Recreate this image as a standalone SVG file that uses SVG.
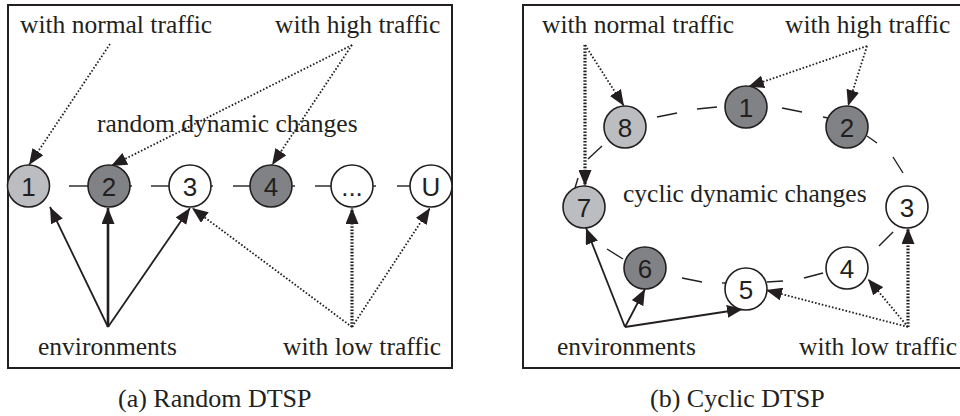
<svg xmlns="http://www.w3.org/2000/svg" width="960" height="416" viewBox="0 0 960 416">
<defs>
<style>
.frame{fill:none;stroke:#231f20;stroke-width:2}
.lbl{font-family:"Liberation Serif","Times New Roman",serif;font-size:25.5px;fill:#231f20}
.cap{font-family:"Liberation Serif","Times New Roman",serif;font-size:26px;fill:#231f20}
.num{font-family:"Liberation Sans",Arial,sans-serif;font-size:26px;fill:#231f20;text-anchor:middle}
.n circle{stroke:#231f20;stroke-width:1.6}
.light{fill:#bcbdc0}
.dark{fill:#808285}
.white{fill:#ffffff}
.dash{stroke:#231f20;stroke-width:1.4;fill:none}
.solid{stroke:#231f20;stroke-width:1.8;fill:none;marker-end:url(#ah)}
.solidb{stroke:#231f20;stroke-width:2.6;fill:none;marker-end:url(#ah)}
.dot{stroke:#231f20;stroke-width:1.8;stroke-dasharray:1.6 1.9;fill:none;marker-end:url(#ah)}
.dotb{stroke:#231f20;stroke-width:3.2;stroke-dasharray:1.6 1.6;fill:none;marker-end:url(#ah)}
</style>
<marker id="ah" markerUnits="userSpaceOnUse" markerWidth="17" markerHeight="13" refX="16" refY="6.5" orient="auto">
<path d="M0,0 L16,6.5 L0,13 z" fill="#231f20"/>
</marker>
</defs>
<rect width="960" height="416" fill="#ffffff"/>

<!-- panel frames -->
<rect class="frame" x="8" y="5" width="444" height="363"/>
<rect class="frame" x="523" y="5" width="460" height="363"/>

<!-- connectors -->
<g id="connectors">
<g class="dash">
<line x1="69" y1="186" x2="88" y2="186"/>
<line x1="129" y1="186" x2="132" y2="186"/>
<line x1="151" y1="186" x2="169" y2="186"/>
<line x1="210" y1="186" x2="213" y2="186"/>
<line x1="233" y1="186" x2="251" y2="186"/>
<line x1="292" y1="186" x2="295" y2="186"/>
<line x1="315" y1="186" x2="332" y2="186"/>
<line x1="372" y1="186" x2="376" y2="186"/>
<line x1="397" y1="186" x2="411" y2="186"/>
</g>
<g class="dash">
<line x1="657" y1="117" x2="677" y2="113"/>
<line x1="697" y1="109" x2="717" y2="107"/>
<line x1="782" y1="108" x2="802" y2="112"/>
<line x1="823" y1="117" x2="828" y2="118"/>
<line x1="867" y1="136" x2="877" y2="143"/>
<line x1="893" y1="157" x2="903" y2="173"/>
<line x1="893" y1="232" x2="879" y2="246"/>
<line x1="823" y1="273" x2="804" y2="278"/>
<line x1="783" y1="281" x2="767" y2="282"/>
<line x1="722" y1="283" x2="726" y2="283"/>
<line x1="682" y1="278" x2="702" y2="282"/>
<line x1="623" y1="259" x2="607" y2="249"/>
<line x1="575" y1="188" x2="578" y2="178"/>
<line x1="588" y1="159" x2="602" y2="146"/>
</g>
<line class="dot" x1="110" y1="44" x2="29" y2="165"/>
<line class="dot" x1="352" y1="45" x2="111" y2="166"/>
<line class="dot" x1="352" y1="45" x2="272" y2="165"/>
<line class="solid" x1="108" y1="327" x2="50" y2="207"/>
<line class="solidb" x1="108" y1="327" x2="108" y2="208"/>
<line class="solid" x1="108" y1="327" x2="190" y2="208"/>
<line class="dot" x1="352" y1="327" x2="192" y2="208"/>
<line class="dotb" x1="352" y1="327" x2="352" y2="208"/>
<line class="dot" x1="352" y1="327" x2="430" y2="208"/>
<line class="dotb" x1="585" y1="45" x2="585" y2="186"/>
<line class="dot" x1="585" y1="45" x2="624" y2="106"/>
<line class="dot" x1="867" y1="46" x2="748" y2="87"/>
<line class="dot" x1="867" y1="46" x2="848" y2="106"/>
<line class="solid" x1="625" y1="327" x2="586" y2="228"/>
<line class="solid" x1="625" y1="327" x2="645" y2="289"/>
<line class="solid" x1="625" y1="327" x2="743" y2="309"/>
<line class="dot" x1="908" y1="327" x2="766" y2="290"/>
<line class="dot" x1="908" y1="327" x2="868" y2="279"/>
<line class="dotb" x1="908" y1="327" x2="908" y2="228"/>
</g>

<!-- left panel nodes -->
<g id="a-node-1" class="n"><circle class="light" cx="28.5" cy="186" r="21"/><text class="num" x="28.5" y="195.5">1</text></g>
<g id="a-node-2" class="n"><circle class="dark" cx="109" cy="186" r="21"/><text class="num" x="109" y="195.5">2</text></g>
<g id="a-node-3" class="n"><circle class="white" cx="190" cy="186" r="21"/><text class="num" x="190" y="195.5">3</text></g>
<g id="a-node-4" class="n"><circle class="dark" cx="271" cy="186" r="21"/><text class="num" x="271" y="195.5">4</text></g>
<g id="a-node-dots" class="n"><circle class="white" cx="352" cy="186" r="21"/><text class="num" x="352" y="195.5">...</text></g>
<g id="a-node-U" class="n"><circle class="white" cx="431" cy="186" r="21"/><text class="num" x="431" y="195.5">U</text></g>

<!-- right panel nodes -->
<g id="b-node-1" class="n"><circle class="dark" cx="746" cy="107" r="21"/><text class="num" x="746" y="116.5">1</text></g>
<g id="b-node-2" class="n"><circle class="dark" cx="847" cy="127" r="21"/><text class="num" x="847" y="136.5">2</text></g>
<g id="b-node-3" class="n"><circle class="white" cx="907" cy="207" r="21"/><text class="num" x="907" y="216.5">3</text></g>
<g id="b-node-4" class="n"><circle class="white" cx="847" cy="268" r="21"/><text class="num" x="847" y="277.5">4</text></g>
<g id="b-node-5" class="n"><circle class="white" cx="746" cy="289" r="21"/><text class="num" x="746" y="298.5">5</text></g>
<g id="b-node-6" class="n"><circle class="dark" cx="645" cy="268" r="21"/><text class="num" x="645" y="277.5">6</text></g>
<g id="b-node-7" class="n"><circle class="light" cx="584" cy="207" r="21"/><text class="num" x="584" y="216.5">7</text></g>
<g id="b-node-8" class="n"><circle class="light" cx="625" cy="127" r="21"/><text class="num" x="625" y="136.5">8</text></g>

<!-- labels -->
<g id="labels">
<text class="lbl" x="20" y="33">with normal traffic</text>
<text class="lbl" x="275" y="33">with high traffic</text>
<text class="lbl" x="97" y="132">random dynamic changes</text>
<text class="lbl" x="38" y="355">environments</text>
<text class="lbl" x="283" y="355">with low traffic</text>
<text class="cap" x="118" y="407">(a) Random DTSP</text>
<text class="lbl" x="542" y="33">with normal traffic</text>
<text class="lbl" x="785" y="33">with high traffic</text>
<text class="lbl" x="623" y="202">cyclic dynamic changes</text>
<text class="lbl" x="557" y="355">environments</text>
<text class="lbl" x="799" y="355">with low traffic</text>
<text class="cap" x="650" y="407">(b) Cyclic DTSP</text>
</g>
</svg>
